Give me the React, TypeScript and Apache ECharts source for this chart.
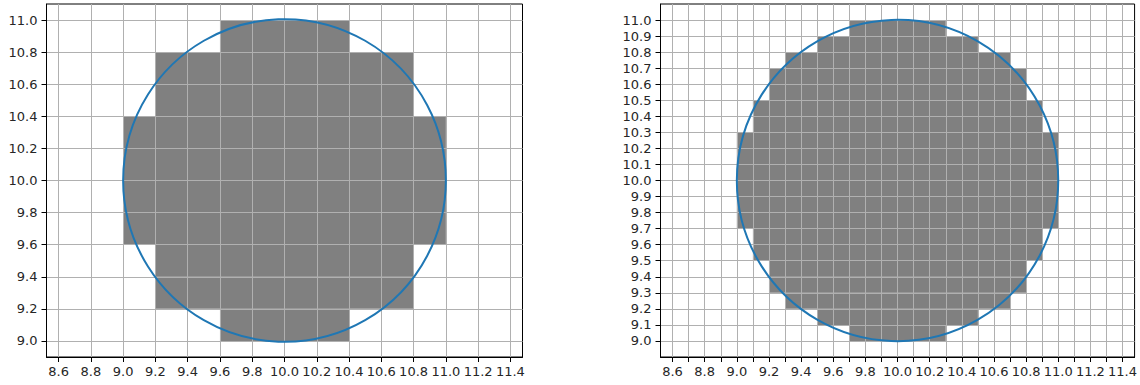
import React, { useEffect, useRef } from "react";
import * as echarts from "echarts";

// Circle (center and radius)
const circleCenter = [10, 10];
const circleRadius = 1;

// Left panel: 0.2-sized cells, one row per band (bottom y, x start, x end)
const leftCellSize = 0.2;
const leftRowBottoms = [9.0, 9.2, 9.4, 9.6, 9.8, 10.0, 10.2, 10.4, 10.6, 10.8];
const leftRowStarts = [9.6, 9.2, 9.2, 9.0, 9.0, 9.0, 9.0, 9.2, 9.2, 9.6];
const leftRowEnds = [10.4, 10.8, 10.8, 11.0, 11.0, 11.0, 11.0, 10.8, 10.8, 10.4];

// Right panel: 0.1-sized cells
const rightCellSize = 0.1;
const rightRowBottoms = [
  9.0, 9.1, 9.2, 9.3, 9.4, 9.5, 9.6, 9.7, 9.8, 9.9,
  10.0, 10.1, 10.2, 10.3, 10.4, 10.5, 10.6, 10.7, 10.8, 10.9,
];
const rightRowStarts = [
  9.7, 9.5, 9.3, 9.2, 9.2, 9.1, 9.1, 9.0, 9.0, 9.0,
  9.0, 9.0, 9.0, 9.1, 9.1, 9.2, 9.2, 9.3, 9.5, 9.7,
];
const rightRowEnds = [
  10.3, 10.5, 10.7, 10.8, 10.8, 10.9, 10.9, 11.0, 11.0, 11.0,
  11.0, 11.0, 11.0, 10.9, 10.9, 10.8, 10.8, 10.7, 10.5, 10.3,
];

// Axis ranges and ticks
const xRange = [8.525, 11.475];
const yRange = [8.9, 11.1];
const leftXTicks = [8.6, 8.8, 9.0, 9.2, 9.4, 9.6, 9.8, 10.0, 10.2, 10.4, 10.6, 10.8, 11.0, 11.2, 11.4];
const leftYTicks = [9.0, 9.2, 9.4, 9.6, 9.8, 10.0, 10.2, 10.4, 10.6, 10.8, 11.0];
const rightXTicks = [
  8.6, 8.7, 8.8, 8.9, 9.0, 9.1, 9.2, 9.3, 9.4, 9.5, 9.6, 9.7, 9.8, 9.9,
  10.0, 10.1, 10.2, 10.3, 10.4, 10.5, 10.6, 10.7, 10.8, 10.9, 11.0, 11.1, 11.2, 11.3, 11.4,
];
const rightXLabels = [8.6, 8.8, 9.0, 9.2, 9.4, 9.6, 9.8, 10.0, 10.2, 10.4, 10.6, 10.8, 11.0, 11.2, 11.4];
const rightYTicks = [
  9.0, 9.1, 9.2, 9.3, 9.4, 9.5, 9.6, 9.7, 9.8, 9.9,
  10.0, 10.1, 10.2, 10.3, 10.4, 10.5, 10.6, 10.7, 10.8, 10.9, 11.0,
];

const FONT = "DejaVu Sans";
const TEXT = "#262626";

function rowsData(bottoms: number[], starts: number[], ends: number[], size: number) {
  return bottoms.map((b, i) => [starts[i], ends[i], b, b + size]);
}

function makeXAxis(gridIndex: number, ticks: number[], labels: number[]) {
  return {
    type: "value",
    gridIndex,
    min: xRange[0],
    max: xRange[1],
    z: 3,
    axisLine: { show: true, onZero: false, lineStyle: { color: "#000", width: 1 } },
    axisTick: { show: true, customValues: ticks, length: 5, lineStyle: { color: "#000", width: 1 } },
    axisLabel: {
      customValues: labels,
      formatter: (v: number) => v.toFixed(1),
      fontSize: 13,
      fontFamily: FONT,
      color: TEXT,
      margin: 8,
    },
    splitLine: { show: true, lineStyle: { color: "#b0b0b0", width: 1 } },
  };
}

function makeYAxis(gridIndex: number, ticks: number[]) {
  return {
    type: "value",
    gridIndex,
    min: yRange[0],
    max: yRange[1],
    z: 3,
    axisLine: { show: true, onZero: false, lineStyle: { color: "#000", width: 1 } },
    axisTick: { show: true, customValues: ticks, length: 5, lineStyle: { color: "#000", width: 1 } },
    axisLabel: {
      customValues: ticks,
      formatter: (v: number) => v.toFixed(1),
      fontSize: 13,
      fontFamily: FONT,
      color: TEXT,
      margin: 9,
    },
    splitLine: { show: true, lineStyle: { color: "#b0b0b0", width: 1 } },
  };
}

function cellSeries(index: number, data: number[][]) {
  return {
    type: "custom",
    xAxisIndex: index,
    yAxisIndex: index,
    z: 2,
    silent: true,
    data,
    renderItem: (params: any, api: any) => {
      const p0 = api.coord([api.value(0), api.value(3)]);
      const p1 = api.coord([api.value(1), api.value(2)]);
      return {
        type: "rect",
        shape: { x: p0[0], y: p0[1], width: p1[0] - p0[0], height: p1[1] - p0[1] },
        style: { fill: "#808080" },
      };
    },
  };
}

function circleSeries(index: number) {
  return {
    type: "custom",
    xAxisIndex: index,
    yAxisIndex: index,
    z: 5,
    silent: true,
    data: [[circleCenter[0], circleCenter[1], circleRadius]],
    renderItem: (params: any, api: any) => {
      const c = api.coord([api.value(0), api.value(1)]);
      const s = api.size([api.value(2), api.value(2)]);
      return {
        type: "circle",
        z2: 10,
        shape: { cx: c[0], cy: c[1], r: s[0] },
        style: { fill: "none", stroke: "#1f77b4", lineWidth: 2 },
      };
    },
  };
}

export default function App() {
  const ref = useRef<HTMLDivElement>(null);
  useEffect(() => {
    if (!ref.current) return;
    const chart = echarts.init(ref.current, null, { renderer: "svg" });
    chart.setOption({
      animation: false,
      backgroundColor: "#fff",
      grid: [
        { left: 46.5, top: 4, width: 476, height: 353, show: true, borderColor: "#000", borderWidth: 1, backgroundColor: "transparent" },
        { left: 660.5, top: 4, width: 475.5, height: 353, show: true, borderColor: "#000", borderWidth: 1, backgroundColor: "transparent" },
      ],
      xAxis: [makeXAxis(0, leftXTicks, leftXTicks), makeXAxis(1, rightXTicks, rightXLabels)],
      yAxis: [makeYAxis(0, leftYTicks), makeYAxis(1, rightYTicks)],
      series: [
        cellSeries(0, rowsData(leftRowBottoms, leftRowStarts, leftRowEnds, leftCellSize)),
        cellSeries(1, rowsData(rightRowBottoms, rightRowStarts, rightRowEnds, rightCellSize)),
        circleSeries(0),
        circleSeries(1),
      ],
    });
    return () => chart.dispose();
  }, []);
  return (
    <div
      ref={ref}
      style={{ position: "fixed", left: 0, top: 0, width: 1140, height: 385, background: "#fff" }}
    />
  );
}
